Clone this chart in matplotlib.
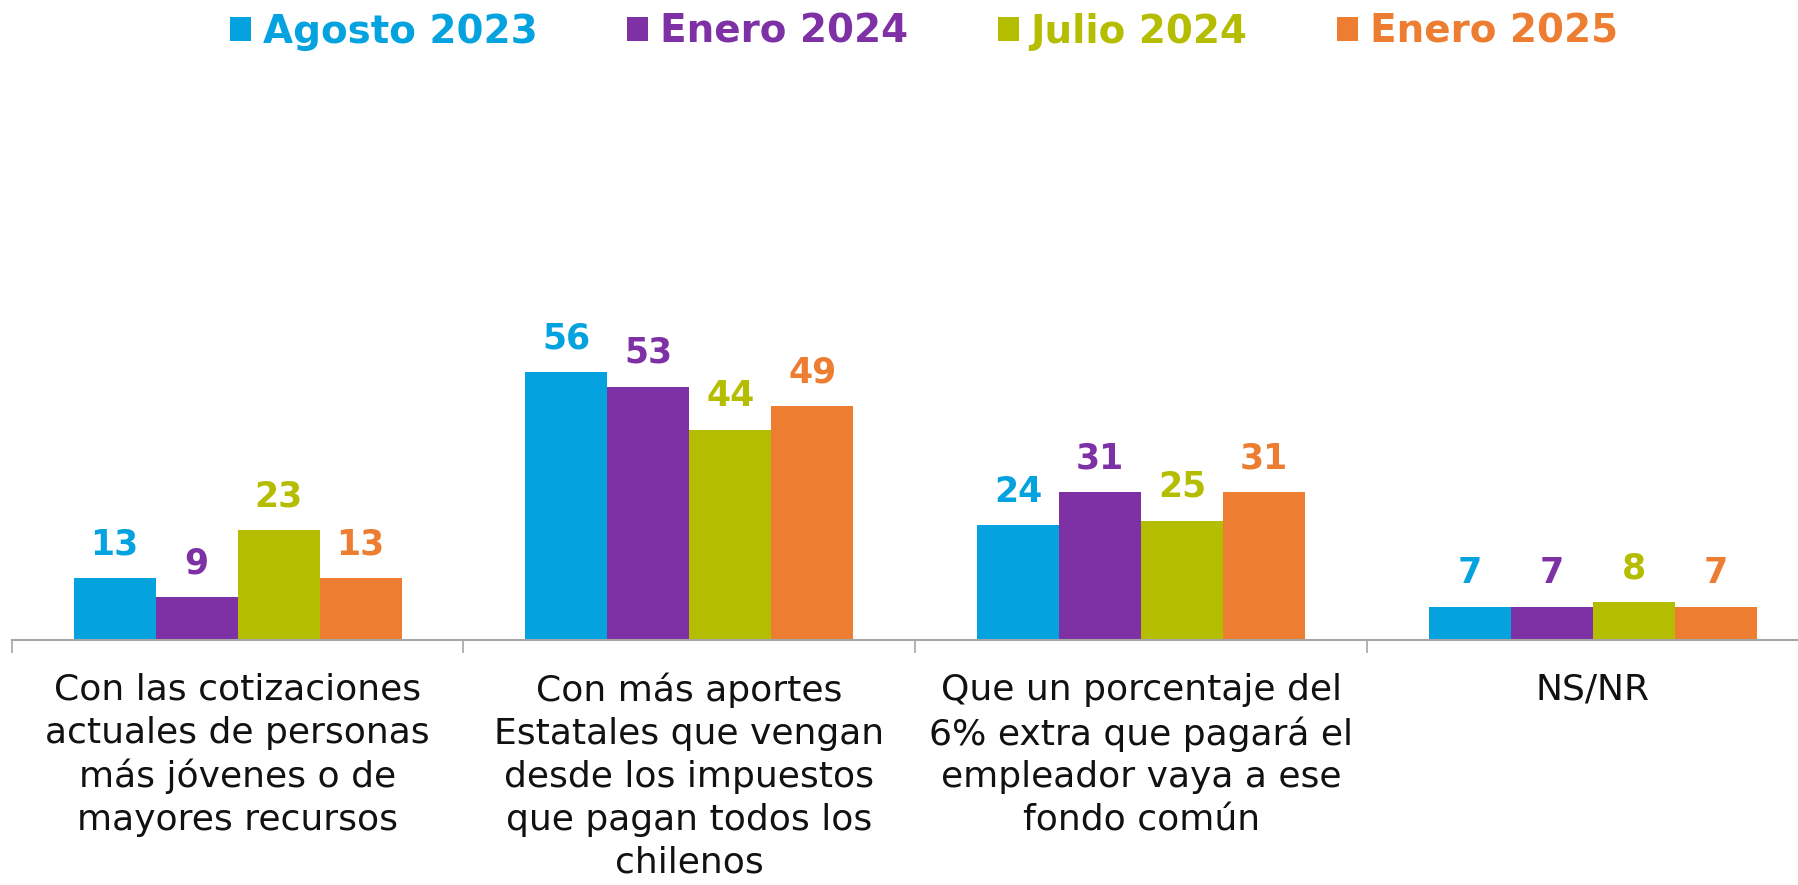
import matplotlib
matplotlib.use("Agg")
import matplotlib.pyplot as plt
from matplotlib.patches import Patch
import numpy as np

categories = [
    "Con las cotizaciones\nactuales de personas\nmás jóvenes o de\nmayores recursos",
    "Con más aportes\nEstatales que vengan\ndesde los impuestos\nque pagan todos los\nchilenos",
    "Que un porcentaje del\n6% extra que pagará el\nempleador vaya a ese\nfondo común",
    "NS/NR",
]
series_names = ["Agosto 2023", "Enero 2024", "Julio 2024", "Enero 2025"]
agosto_2023 = [13, 56, 24, 7]
enero_2024 = [9, 53, 31, 7]
julio_2024 = [23, 44, 25, 8]
enero_2025 = [13, 49, 31, 7]
series_values = [agosto_2023, enero_2024, julio_2024, enero_2025]
colors = ["#04A3DF", "#7E31A5", "#B5BD00", "#ED7D31"]

plt.rcParams["font.family"] = ["DejaVu Sans"]

W, H = 1799, 885
fig = plt.figure(figsize=(W / 100, H / 100), dpi=100)
base_px = 640
top_px = 100
left_px = 11.7
grp_px = 451.8
ax = fig.add_axes([left_px / W, (H - base_px) / H, 4 * grp_px / W, (base_px - top_px) / H])
px_per_unit = 4.78
ax.set_ylim(0, (base_px - top_px) / px_per_unit)
ax.set_xlim(-0.5, 3.5)

x = np.arange(len(categories))
bw = 82 / grp_px
for i, (vals, c) in enumerate(zip(series_values, colors)):
    pos = x + (i - 1.5) * bw
    ax.bar(pos, vals, width=bw, color=c, edgecolor="none", zorder=2)
    for xp, v in zip(pos, vals):
        ax.annotate(str(v), (xp, v), xytext=(0, 12), textcoords="offset points",
                    ha="center", va="bottom", fontsize=25, fontweight="bold", color=c)

for s in ["top", "right", "left"]:
    ax.spines[s].set_visible(False)
ax.spines["bottom"].set_color("#A6A6A6")
ax.spines["bottom"].set_linewidth(1.5)
ax.set_yticks([])
ax.set_xticks(x)
ax.set_xticklabels(categories, fontsize=26, color="#111111", linespacing=1.33)
ax.tick_params(axis="x", which="major", length=0, pad=23.5)
ax.set_xticks(np.arange(-0.5, 4.0, 1.0), minor=True)
ax.tick_params(axis="x", which="minor", length=9, width=1.2, color="#A6A6A6")

handles = [Patch(facecolor=c, edgecolor="none") for c in colors]
leg = fig.legend(handles, series_names, loc="center", bbox_to_anchor=(0.5136, 0.964), ncol=4,
                 frameon=False, prop={"size": 28, "weight": "bold"}, handlelength=0.55,
                 handleheight=0.55, handletextpad=0.3, columnspacing=2.3)
for t, c in zip(leg.get_texts(), colors):
    t.set_color(c)

fig.savefig("out.png", dpi=100)
